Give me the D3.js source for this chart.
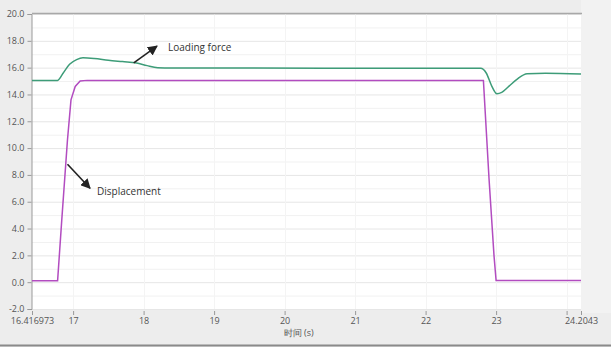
<!DOCTYPE html>
<html>
<head>
<meta charset="utf-8">
<script src="https://cdn.jsdelivr.net/npm/d3@7"></script>
<style>
  body { margin: 0; background: #ededed; }
  svg { display: block; }
  text { font-family: 'Open Sans', 'DejaVu Sans', sans-serif; }
</style>
</head>
<body>
<script>
// time (s) / loading force
const forceT = [16.416973, 16.78, 16.86, 16.95, 17.05, 17.14, 17.3, 17.5, 17.7, 17.9, 18.05, 18.2, 18.4, 22.78, 22.86, 22.94, 23.01, 23.08, 23.18, 23.3, 23.44, 23.7, 24.2043]
const forceV = [15.05, 15.05, 15.6, 16.25, 16.6, 16.73, 16.68, 16.55, 16.45, 16.35, 16.15, 16.0, 15.97, 15.95, 15.6, 14.6, 14.05, 14.15, 14.6, 15.15, 15.55, 15.58, 15.52]

// time (s) / displacement
const dispT = [16.416973, 16.78, 16.84, 16.92, 16.97, 17.03, 17.1, 17.2, 22.82, 22.9, 22.97, 23.0, 24.2043]
const dispV = [0.1, 0.1, 4.7, 10.6, 13.6, 14.6, 15.0, 15.05, 15.05, 7.7, 2.0, 0.12, 0.12]

const xTicks = [16.416973, 17, 18, 19, 20, 21, 22, 23, 24, 24.2043]
const xTickLabels = ['16.416973', '17', '18', '19', '20', '21', '22', '23', '', '24.2043']
const yTicks = [-2, 0, 2, 4, 6, 8, 10, 12, 14, 16, 18, 20]

const width = 611
const height = 347
const margin = { left: 32, right: 30, top: 14, bottom: 38 }

const x = d3.scaleLinear().domain([16.416973, 24.2043]).range([margin.left, width - margin.right])
const y = d3.scaleLinear().domain([-2, 20]).range([height - margin.bottom, margin.top])

const svg = d3.select('body').append('svg')
  .attr('width', width)
  .attr('height', height)

// lighter strip at the right of the plot
svg.append('rect')
  .attr('x', width - margin.right).attr('y', 0)
  .attr('width', margin.right).attr('height', height - margin.bottom + 4)
  .attr('fill', '#f2f2f2')

svg.append('rect')
  .attr('x', margin.left).attr('y', margin.top)
  .attr('width', width - margin.left - margin.right)
  .attr('height', height - margin.top - margin.bottom)
  .attr('fill', '#fff')

// grid
svg.append('g').selectAll('line')
  .data(d3.range(-2, 20.01, 1))
  .enter().append('line')
  .attr('x1', margin.left).attr('x2', width - margin.right)
  .attr('y1', d => y(d) + 0.5).attr('y2', d => y(d) + 0.5)
  .attr('stroke', d => d % 2 === 0 ? '#e6e6e6' : '#f1f1f1')

svg.append('g').selectAll('line')
  .data(d3.range(17, 25, 1))
  .enter().append('line')
  .attr('x1', d => Math.round(x(d)) + 0.5).attr('x2', d => Math.round(x(d)) + 0.5)
  .attr('y1', margin.top).attr('y2', height - margin.bottom)
  .attr('stroke', '#f4f4f4')

// top border
svg.append('line')
  .attr('x1', margin.left).attr('x2', width - margin.right + 1)
  .attr('y1', margin.top - 0.5).attr('y2', margin.top - 0.5)
  .attr('stroke', '#a8a8a8').attr('stroke-width', 1.5)

// y axis
const yAxis = d3.axisLeft(y).tickValues(yTicks).tickSize(4)
  .tickFormat(d => d.toFixed(1))
const gy = svg.append('g')
  .attr('transform', `translate(${margin.left - 0.5},0)`)
  .call(yAxis)
gy.select('.domain').attr('stroke', '#999')
gy.selectAll('.tick line').attr('stroke', '#999')
gy.selectAll('.tick text').attr('fill', '#555').style('font-size', '9px')

// x axis
const xAxis = d3.axisBottom(x).tickValues(xTicks).tickSize(4).tickPadding(3)
  .tickFormat((d, i) => xTickLabels[i])
const gx = svg.append('g')
  .attr('transform', `translate(0,${height - margin.bottom + 2})`)
  .call(xAxis)
gx.select('.domain').remove()
gx.selectAll('.tick line').attr('stroke', '#999')
gx.selectAll('.tick text').attr('fill', '#555').style('font-size', '9px')

svg.append('text')
  .attr('x', x(20.2)).attr('y', 336)
  .attr('text-anchor', 'middle')
  .attr('fill', '#555')
  .style('font-size', '9px')
  .text('时间 (s)')

// bottom frame line
svg.append('line')
  .attr('x1', 0).attr('x2', width)
  .attr('y1', height - 1.5).attr('y2', height - 1.5)
  .attr('stroke', '#8a8a8a').attr('stroke-width', 2)

// series
const line = d3.line().curve(d3.curveMonotoneX)
svg.append('path')
  .datum(forceT.map((t, i) => [x(t), y(forceV[i])]))
  .attr('d', line)
  .attr('fill', 'none')
  .attr('stroke', '#3d9c78')
  .attr('stroke-width', 1.5)

svg.append('path')
  .datum(dispT.map((t, i) => [x(t), y(dispV[i])]))
  .attr('d', d3.line())
  .attr('fill', 'none')
  .attr('stroke', '#b24cc0')
  .attr('stroke-width', 1.5)

// annotations
svg.append('defs').append('marker')
  .attr('id', 'arrow')
  .attr('viewBox', '0 0 10 10')
  .attr('refX', 9).attr('refY', 5)
  .attr('markerWidth', 10).attr('markerHeight', 10)
  .attr('markerUnits', 'userSpaceOnUse')
  .attr('orient', 'auto')
  .append('path')
  .attr('d', 'M0,0 L10,5 L0,10 z')
  .attr('fill', '#222')

svg.append('line')
  .attr('x1', x(17.86)).attr('y1', y(16.35))
  .attr('x2', x(18.19)).attr('y2', y(17.6))
  .attr('stroke', '#222').attr('stroke-width', 1.6)
  .attr('marker-end', 'url(#arrow)')

svg.append('text')
  .attr('x', 168).attr('y', 51)
  .attr('fill', '#333')
  .style('font-size', '10px')
  .text('Loading force')

svg.append('line')
  .attr('x1', x(16.92)).attr('y1', y(8.8))
  .attr('x2', x(17.24)).attr('y2', y(7.0))
  .attr('stroke', '#222').attr('stroke-width', 1.6)
  .attr('marker-end', 'url(#arrow)')

svg.append('text')
  .attr('x', 97).attr('y', 195)
  .attr('fill', '#333')
  .style('font-size', '10px')
  .text('Displacement')
</script>
</body>
</html>
